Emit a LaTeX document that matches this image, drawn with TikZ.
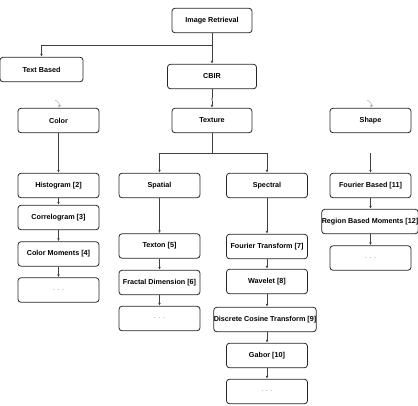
\documentclass[tikz,border=0pt]{standalone}
\usepackage{fontspec}
\setmainfont{Liberation Sans}
\usetikzlibrary{arrows.meta}

\begin{document}
\begin{tikzpicture}[x=1pt, y=-1pt,
  box/.style={draw=black!85, line width=0.8pt, rounded corners=3pt, fill=white,
    minimum width=81pt, minimum height=24.5pt, inner sep=0pt,
    font=\fontsize{7.2}{8}\selectfont\bfseries},
  wide/.style={box, minimum width=96pt},
  link/.style={draw=black!75, line width=0.6pt},
  stub/.style={draw=black!35, line width=0.4pt},
  dots/.style={text=black!45, font=\fontsize{7}{8}\selectfont},
  >={Latex[length=3pt,width=2.6pt]},
]
\useasboundingbox (0,0) rectangle (418,405);
% top levels
\node[box, minimum width=80pt] (ir) at (212,20.5) {Image Retrieval};
\node[box, minimum width=83pt] (tb) at (41.5,69.5) {Text Based};
\node[box, minimum width=89pt] (cbir) at (212,76.5) {CBIR};
\node[box] (col) at (58.5,120.5) {Color};
\node[box, minimum width=80pt] (tex) at (212,120.5) {Texture};
\node[box] (sh) at (370.5,120.5) {Shape};
% color column
\node[box] (hist) at (58.5,185.5) {Histogram [2]};
\node[box] (corr) at (58.5,217.5) {Correlogram [3]};
\node[box] (cm) at (58.5,254) {Color Moments [4]};
\node[box] (cdots) at (58.5,290) {\textnormal{\textcolor{black!45}{. . .}}};
% texture: spatial
\node[box] (spat) at (159.5,185.5) {Spatial};
\node[box] (texton) at (159.5,246) {Texton [5]};
\node[box] (frac) at (159.5,282.5) {Fractal Dimension [6]};
\node[box] (sdots) at (159.5,318.5) {\textnormal{\textcolor{black!45}{. . .}}};
% texture: spectral
\node[box] (spec) at (267,185.5) {Spectral};
\node[box] (ft) at (267,246.5) {Fourier Transform [7]};
\node[box] (wav) at (267,281.5) {Wavelet [8]};
\node[wide] (dct) at (265,319.5) {Discrete Cosine Transform [9]};
\node[box] (gab) at (267,355.5) {Gabor [10]};
\node[box] (gdots) at (267,391.5) {\textnormal{\textcolor{black!45}{. . .}}};
% shape column
\node[box] (fb) at (370.5,185.5) {Fourier Based [11]};
\node[wide] (rbm) at (370,221.5) {Region Based Moments [12]};
\node[box] (shdots) at (370.5,258) {\textnormal{\textcolor{black!45}{. . .}}};

\draw[link,->] (ir) -- (cbir);
\draw[link,->] (ir.south) -- ++(0,12) -| (tb.north);
\draw[link,->] (cbir) -- (tex);
\draw[link,->] (tex.south) -- ++(0,20) -| (spat.north);
\draw[link,->] (tex.south) -- ++(0,20) -| (spec.north);
\draw[link,->] (col) -- (hist);
\draw[link,->] (hist) -- (corr);
\draw[link,->] (corr) -- (cm);
\draw[link,->] (cm) -- (cdots);
\draw[link,->] (spat) -- (texton);
\draw[link,->] (texton) -- (frac);
\draw[link,->] (frac) -- (sdots);
\draw[link,->] (spec) -- (ft);
\draw[link,->] (ft) -- (wav);
\draw[link,->] (wav) -- (dct.north -| wav.south);
\draw[link,->] (dct.south -| gab.north) -- (gab);
\draw[link,->] (gab) -- (gdots);
\coordinate (shp) at (370.5,153);
\draw[link,->] (shp) -- (fb);
\draw[link,->] (fb) -- (fb |- rbm.north);
\draw[link,->] (fb |- rbm.south) -- (shdots);
% faint loose ends
\draw[stub,->] (55,100) to[bend left=50] (col.north);
\draw[stub,->] (367,100) to[bend left=50] (sh.north);
\draw[stub,->] (212,101) -- ++(0,-4);
\end{tikzpicture}
\end{document}
